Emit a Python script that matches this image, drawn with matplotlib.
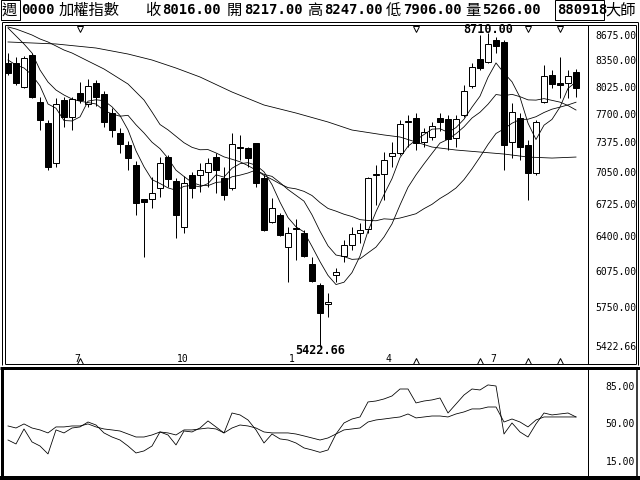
import matplotlib
matplotlib.use("Agg")
import matplotlib.pyplot as plt
from matplotlib.patches import Rectangle
from matplotlib.lines import Line2D
from matplotlib.transforms import blended_transform_factory

# ---------------- data (weekly candles) ----------------
opens = [8328, 8328, 8031, 8430, 7852, 7606, 7160, 7875, 7676, 7959,
         7828, 8080, 7947, 7722, 7492, 7357, 7138, 6781, 6781, 6895,
         7225, 6968, 6500, 7031, 7031, 7063, 7225, 6999, 6895, 7324,
         7324, 7380, 6999, 6549, 6619, 6306, 6481, 6441, 6146, 5954,
         5786, 6045, 6222, 6325, 6441, 6481, 7031, 7042, 7236, 7269,
         7618, 7664, 7391, 7447, 7664, 7653, 7436, 7699, 8043, 8379,
         8341, 8623, 8597, 7391, 7664, 7357, 7052, 7852, 8178, 8080,
         8080, 8217]
highs = [8455, 8404, 8417, 8455, 7911, 7641, 7899, 7911, 7911, 8092,
         8129, 8117, 7983, 7781, 7548, 7402, 7182, 6781, 7010, 7225,
         7247, 6999, 7020, 7063, 7160, 7214, 7269, 7117, 7492, 7470,
         7335, 7380, 7031, 6792, 6639, 6500, 6579, 6471, 6212, 5972,
         5883, 6110, 6374, 6500, 6539, 7010, 7138, 7280, 7391, 7641,
         7699, 7722, 7548, 7618, 7722, 7699, 7699, 8056, 8328, 8688,
         8710, 8662, 8623, 7840, 7722, 7413, 7641, 8303, 8241, 8404,
         8241, 8247]
lows = [8178, 8056, 8019, 7899, 7526, 7085, 7117, 7560, 7526, 7840,
        7793, 7805, 7560, 7447, 7269, 7085, 6619, 6212, 6689, 6802,
        6905, 6393, 6441, 6792, 6853, 6905, 6843, 6771, 6874, 7193,
        7117, 6905, 6460, 6539, 6412, 5982, 6184, 6212, 5982, 5422.66,
        5673, 5982, 6165, 6278, 6344, 6441, 6720, 6771, 7117, 7247,
        7335, 7302, 7335, 7413, 7514, 7302, 7335, 7676, 8019, 8241,
        8328, 8455, 7085, 7215, 7193, 6771, 7031, 7840, 8019, 7899,
        7899, 7906]
closes = [8203, 8080, 8391, 7911, 7641, 7117, 7828, 7676, 7887, 7875,
          8043, 7911, 7618, 7526, 7368, 7215, 6740, 6750, 6843, 7160,
          6989, 6619, 6947, 6895, 7085, 7160, 7085, 6822, 7368, 7330,
          7215, 6947, 6471, 6689, 6422, 6441, 6485, 6222, 5991, 5707,
          5804, 6073, 6325, 6432, 6471, 6999, 7035, 7193, 7269, 7595,
          7630, 7380, 7503, 7572, 7618, 7425, 7653, 7983, 8278, 8266,
          8571, 8545, 7357, 7734, 7335, 7052, 7618, 8166, 8068, 8056,
          8166, 8016]

# moving-average lines
ma5 = [8366, 8303, 8266, 8178, 8045, 7828, 7778, 7635, 7630, 7677,
       7862, 7878, 7867, 7795, 7693, 7528, 7293, 7120, 6983, 6942,
       6896, 6872, 6912, 6922, 6907, 6941, 7034, 7009, 7104, 7153,
       7164, 7136, 7066, 6930, 6749, 6594, 6502, 6452, 6312, 6169,
       6042, 5959, 5980, 6068, 6221, 6460, 6652, 6826, 6993, 7218,
       7344, 7413, 7475, 7536, 7541, 7500, 7554, 7650, 7791, 7921,
       8150, 8329, 8203, 8095, 7908, 7605, 7419, 7581, 7648, 7792,
       8015, 8094]
ma10 = [8781, 8675, 8571, 8455, 8241, 8092, 7995, 7935, 7887, 7861,
        7845, 7828, 7751, 7712, 7685, 7695, 7586, 7493, 7389, 7317,
        7212, 7083, 7016, 6953, 6924, 6919, 6953, 6961, 7013, 7030,
        7053, 7085, 7038, 7017, 6951, 6879, 6819, 6759, 6621, 6459,
        6318, 6231, 6216, 6190, 6195, 6251, 6306, 6403, 6531, 6720,
        6902, 7033, 7151, 7265, 7379, 7422, 7484, 7563, 7664, 7731,
        7825, 7941, 7927, 7943, 7915, 7877, 7874, 7892, 7871, 7850,
        7810, 7757]
ma20 = [8794, 8767, 8728, 8688, 8636, 8597, 8545, 8493, 8455, 8404,
        8353, 8303, 8253, 8191, 8129, 8068, 7971, 7875, 7734, 7589,
        7528, 7455, 7383, 7332, 7305, 7307, 7270, 7227, 7201, 7174,
        7132, 7084, 7027, 6985, 6938, 6899, 6886, 6860, 6817, 6745,
        6685, 6658, 6627, 6604, 6573, 6565, 6562, 6581, 6576, 6589,
        6610, 6632, 6683, 6727, 6787, 6836, 6895, 6983, 7097, 7225,
        7364, 7487, 7539, 7604, 7647, 7650, 7679, 7728, 7767, 7791,
        7817, 7849]
maL_idx = [0, 3, 6, 11, 15, 18, 21, 24, 28, 32, 36, 40, 43, 47, 49, 53,
           56, 59, 62, 65, 68, 71]
maL = [8597, 8584, 8571, 8519, 8442, 8366, 8265, 8154, 7971, 7816, 7722,
       7618, 7526, 7470, 7447, 7335, 7302, 7280, 7258, 7225, 7214, 7225]

# lower indicator panel (two lines)
k_line = [35.5, 31.8, 45.8, 33.7, 29.9, 22.5, 44.9, 42.1, 46.7, 47.7,
          52.3, 49.5, 42.1, 38.3, 35.5, 29.9, 23.4, 25.3, 29.9, 43.0,
          40.2, 30.9, 43.9, 43.0, 46.7, 53.3, 47.7, 42.1, 60.7, 58.9,
          54.2, 44.9, 32.7, 41.1, 36.5, 35.5, 32.7, 28.1, 26.2, 24.0,
          26.2, 41.1, 51.4, 55.1, 57.0, 71.0, 71.9, 73.8, 76.6, 83.1,
          83.1, 70.1, 71.9, 72.9, 74.7, 60.7, 69.1, 77.5, 83.1, 82.2,
          86.9, 85.9, 41.1, 51.4, 43.0, 38.3, 50.5, 60.7, 58.9, 59.8,
          60.7, 57.0]
d_line = [48.6, 46.7, 50.5, 46.7, 44.9, 42.1, 47.7, 47.7, 48.6, 48.6,
          50.5, 47.7, 45.8, 44.9, 43.9, 41.1, 38.3, 38.3, 40.2, 43.0,
          42.1, 40.2, 44.9, 44.9, 45.8, 46.7, 45.8, 42.1, 46.7, 49.5,
          48.6, 46.7, 43.0, 42.1, 42.1, 42.1, 41.1, 39.3, 37.4, 35.5,
          37.4, 41.1, 44.9, 45.8, 46.7, 52.3, 54.2, 55.1, 56.1, 57.0,
          59.8, 56.1, 57.0, 57.9, 57.9, 57.0, 59.8, 61.7, 64.5, 64.5,
          66.3, 66.3, 52.3, 55.1, 52.3, 47.7, 54.2, 57.0, 57.0, 57.0,
          57.0, 57.0]

price_ticks = [8675, 8350, 8025, 7700, 7375, 7050, 6725, 6400, 6075, 5750, 5422.66]
low_ticks = [85, 50, 15]
month_labels = ["7", "10", "1", "4", "7"]
month_pos = [8.6, 21.9, 35.5, 47.5, 60.6]
top_marks = [9, 51, 65, 69]
bottom_marks = [9, 51, 59, 65, 69]
hi_label, lo_label = 8710.00, 5422.66
hi_idx, lo_idx = 60, 39

hdr_close, hdr_open, hdr_high, hdr_low, hdr_vol = 8016.00, 8217.00, 8247.00, 7906.00, 5266.00

# ---------------- figure ----------------
W, H = 640, 480
PX = 0.72  # 1 pixel in points
fig = plt.figure(figsize=(6.4, 4.8), dpi=100)
fig.patch.set_facecolor("white")


def frac_box(x0, y0, x1, y1):
    return [x0 / W, 1 - y1 / H, (x1 - x0) / W, (y1 - y0) / H]


def fline(xs, ys, lw=1.0):
    fig.add_artist(Line2D([x / W for x in xs], [1 - y / H for y in ys],
                          transform=fig.transFigure, color="black",
                          lw=lw * PX, solid_capstyle="butt"))


def ftext(x, y, s, **kw):
    fig.text(x / W, 1 - y / H, s, **kw)


MONO = ["DejaVu Sans Mono", "Noto Sans CJK TC"]
CJK = ["Noto Sans CJK TC", "DejaVu Sans"]

# ---------------- main price panel ----------------
ax = fig.add_axes(frac_box(6, 26, 588, 364))
ax.set_yscale("log")
ax.set_ylim(5285, 8807)
ax.set_xlim(-0.25, 72.5)
ax.axis("off")

bw = 0.8
for i, (o, h, l, c) in enumerate(zip(opens, highs, lows, closes)):
    ax.vlines(i, l, h, color="black", lw=1.0 * PX, zorder=2)
    up = c >= o
    bottom, top = (o, c) if up else (c, o)
    if top / bottom < 1.0012:
        top = bottom * 1.0012
    ax.add_patch(Rectangle((i - bw / 2, bottom), bw, top - bottom,
                           facecolor="white" if up else "black",
                           edgecolor="black", lw=1.0 * PX, zorder=3))

xs = list(range(len(closes)))
for series in (ma5, ma10, ma20):
    ax.plot(xs, series, color="black", lw=0.8 * PX, zorder=4)
ax.plot(maL_idx, maL, color="black", lw=0.8 * PX, zorder=4)

# high / low annotations
ax.text(hi_idx, 8760, f"{hi_label:.2f}", ha="center", va="center",
        family=MONO, fontsize=8.5, fontweight="bold")
ax.text(lo_idx, 5395, f"{lo_label:.2f}", ha="center", va="center",
        family=MONO, fontsize=8.5, fontweight="bold")

# month labels at the bottom of the price panel
for s, p in zip(month_labels, month_pos):
    ax.text(p, 0.0, s, transform=blended_transform_factory(ax.transData, ax.transAxes),
            ha="center", va="bottom", family=MONO, fontsize=7)

# small markers
tb = blended_transform_factory(ax.transData, ax.transAxes)
ax.plot(top_marks, [0.99] * len(top_marks), marker="v", ls="none", ms=5,
        mfc="white", mec="black", mew=0.7, transform=tb, clip_on=False)
ax.plot(bottom_marks, [0.01] * len(bottom_marks), marker="^", ls="none", ms=5,
        mfc="white", mec="black", mew=0.7, transform=tb, clip_on=False)

# right price labels
rt = blended_transform_factory(ax.transAxes, ax.transData)
for t in price_ticks:
    ax.text((595 - 6) / 582, t, f"{t:.2f}", transform=rt, ha="left", va="center",
            family=MONO, fontsize=7, clip_on=False)

# ---------------- lower indicator panel ----------------
axl = fig.add_axes(frac_box(6, 371, 588, 476))
axl.set_ylim(1.9, 99.9)
axl.set_xlim(-0.25, 72.5)
axl.axis("off")
axl.plot(xs, k_line, color="black", lw=0.8 * PX)
axl.plot(xs, d_line, color="black", lw=0.8 * PX)
rtl = blended_transform_factory(axl.transAxes, axl.transData)
for t in low_ticks:
    axl.text((635 - 6) / 582, t, f"{t:.2f}", transform=rtl, ha="right", va="center",
             family=MONO, fontsize=7, clip_on=False)

# ---------------- frames ----------------
# main panel double frame
fline([2, 2], [22, 365]); fline([5, 5], [25, 364])
fline([2, 638], [22, 22]); fline([5, 636], [25, 25])
fline([638, 638], [22, 365]); fline([635.5, 635.5], [25, 364])
fline([588, 588], [25, 364])
fline([5, 636], [364, 364])
# lower panel
fline([0, 640], [368, 368], lw=3)
fline([1.5, 1.5], [368, 480], lw=3)
fline([0, 640], [478, 478], lw=4)
fline([588, 588], [369, 477])
fline([636.5, 636.5], [369, 477], lw=1.5)

# ---------------- header ----------------
fig.add_artist(Rectangle((0.5 / W, 1 - 20 / H), 19.5 / W, 19.5 / H, transform=fig.transFigure,
                         fill=False, ec="black", lw=1 * PX))
fig.add_artist(Rectangle((554.5 / W, 1 - 20 / H), 49 / W, 19.5 / H, transform=fig.transFigure,
                         fill=False, ec="black", lw=1 * PX))
hy = 10.5
ftext(2, hy, "週", family=CJK, fontsize=11, va="center")
ftext(21, hy, "0000", family=MONO, fontsize=10, fontweight="bold", va="center")
ftext(59, hy, "加權指數", family=CJK, fontsize=11, va="center")
items = [("收", hdr_close, 145), ("開", hdr_open, 227), ("高", hdr_high, 307),
         ("低", hdr_low, 386), ("量", hdr_vol, 465)]
for lab, val, x in items:
    ftext(x, hy, lab, family=CJK, fontsize=11, va="center")
    ftext(x + 17, hy, f"{val:.2f}", family=MONO, fontsize=10, fontweight="bold", va="center")
ftext(557, hy, "880918", family=MONO, fontsize=10, fontweight="bold", va="center")
ftext(605, hy, "大師", family=CJK, fontsize=11, va="center")

fig.savefig("out.png", dpi=100, facecolor="white")
